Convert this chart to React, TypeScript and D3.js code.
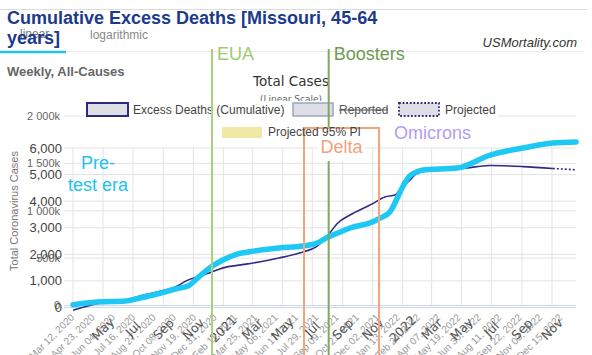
import React from 'react';
import * as d3 from 'd3';

// ---------- DATA ----------
const excessDates = [
  '2020-03-08', '2020-05-03', '2020-06-23', '2020-07-24', '2020-08-28', '2020-10-05', '2020-10-31',
  '2020-11-25', '2020-12-18', '2021-01-12', '2021-03-04', '2021-05-07', '2021-06-26', '2021-07-23',
  '2021-08-17', '2021-09-06', '2021-10-01', '2021-11-15', '2021-12-12', '2022-01-02', '2022-01-12',
  '2022-02-02', '2022-02-16', '2022-03-15', '2022-05-22', '2022-07-17', '2022-09-23', '2022-11-24'
];
const excessValues = [
  -100, 170, 280, 430, 580, 770, 1030,
  1180, 1330, 1490, 1640, 1860, 2090, 2280,
  2730, 3180, 3480, 3890, 4160, 4230, 4420,
  4800, 5040, 5150, 5230, 5340, 5300, 5230
];
const projectedDates = ['2022-11-24', '2023-01-11'];
const projectedValues = [5230, 5180];

const casesDates = [
  '2020-03-01', '2020-04-19', '2020-06-15', '2020-07-15', '2020-08-19', '2020-09-25', '2020-10-21',
  '2020-11-14', '2020-12-07', '2020-12-31', '2021-01-29', '2021-02-20', '2021-04-24', '2021-06-12',
  '2021-07-11', '2021-08-02', '2021-08-22', '2021-09-16', '2021-10-31', '2021-11-16', '2021-12-06',
  '2021-12-16', '2021-12-27', '2022-01-06', '2022-01-16', '2022-01-30', '2022-02-11', '2022-04-22',
  '2022-06-28', '2022-09-03', '2022-11-03', '2022-12-20'
];
const casesValues = [
  8, 37, 47, 79, 121, 174, 206,
  311, 406, 480, 543, 565, 607, 628,
  660, 723, 765, 818, 881, 923, 987,
  1080, 1200, 1300, 1370, 1410, 1430, 1451,
  1588, 1662, 1715, 1725
];

const excessTicks = [0, 1000, 2000, 3000, 4000, 5000, 6000];
const casesTicks = [0, 500, 1000, 1500, 2000];
const casesTickLabels = ['0', '500k', '1 000k', '1 500k', '2 000k'];

const weekLabelDates = [
  '2020-03-12', '2020-04-23', '2020-06-04', '2020-07-16', '2020-08-27', '2020-10-08', '2020-11-19',
  '2020-12-31', '2021-02-11', '2021-03-25', '2021-05-06', '2021-06-17', '2021-07-29', '2021-09-09',
  '2021-10-21', '2021-12-02', '2022-01-13', '2022-02-24', '2022-04-07', '2022-05-19', '2022-06-30',
  '2022-08-11', '2022-09-22', '2022-11-03', '2022-12-15'
];
const monthTickDates = [
  '2020-03-01', '2020-05-01', '2020-07-01', '2020-09-01', '2020-11-01', '2021-01-01', '2021-03-01',
  '2021-05-01', '2021-07-01', '2021-09-01', '2021-11-01', '2022-01-01', '2022-03-01', '2022-05-01',
  '2022-07-01', '2022-09-01', '2022-11-01'
];
const monthTickLabels = [
  '', 'May', 'Jul', 'Sep', 'Nov', '2021', 'Mar', 'May', 'Jul', 'Sep', 'Nov', '2022', 'Mar', 'May',
  'Jul', 'Sep', 'Nov'
];

const euaDate = '2020-12-20';
const boostersDate = '2021-08-18';
const deltaStart = '2021-06-28';
const deltaEnd = '2021-11-30';

// ---------- HELPERS ----------
const pd = (s: string) => {
  const [y, m, d] = s.split('-').map(Number);
  return new Date(Date.UTC(y, m - 1, d));
};
const fmtWeek = (s: string) => {
  const dt = pd(s);
  const mon = ['Jan', 'Feb', 'Mar', 'Apr', 'May', 'Jun', 'Jul', 'Aug', 'Sep', 'Oct', 'Nov', 'Dec'][dt.getUTCMonth()];
  const day = String(dt.getUTCDate()).padStart(2, '0');
  return `${mon} ${day}, ${dt.getUTCFullYear()}`;
};

const SANS = '"Liberation Sans", Arial, Helvetica, sans-serif';
const DEJA = '"DejaVu Sans", "Lucida Grande", sans-serif';

export default function App() {
  const W = 592, H = 355;
  const left = 64, right = 576;

  const xEx = d3.scaleUtc().domain([pd('2020-03-12'), pd('2022-12-15')]).range([75, 563]);
  const xCa = d3.scaleUtc().domain([pd('2020-03-01'), pd('2022-11-01')]).range([73, 552]);
  const yEx = d3.scaleLinear().domain([0, 6000]).range([307.5, 148]);
  const yCa = d3.scaleLinear().domain([0, 2000]).range([305.5, 116]);

  const exPts = excessDates.map((d, i) => [xEx(pd(d)), yEx(excessValues[i])] as [number, number]);
  const prPts = projectedDates.map((d, i) => [xEx(pd(d)), yEx(projectedValues[i])] as [number, number]);
  const caPts = casesDates.map((d, i) => [xCa(pd(d)), yCa(casesValues[i])] as [number, number]);

  const line = d3.line().curve(d3.curveMonotoneX);

  const gridC = '#e3e3e3';
  const euaX = xEx(pd(euaDate));
  const boostX = xEx(pd(boostersDate));
  const dX0 = xEx(pd(deltaStart));
  const dX1 = xEx(pd(deltaEnd));

  return (
    <svg width={W} height={H} style={{ position: 'absolute', left: 0, top: 0, background: '#fff' }}>
      <rect x={0} y={0} width={W} height={H} fill="#fff" />
      {/* top rules */}
      <line x1={0} x2={587} y1={9.5} y2={9.5} stroke="#dcdcdc" strokeWidth={1} />
      <line x1={66} x2={584} y1={51.5} y2={51.5} stroke="#ececec" strokeWidth={1} />
      <line x1={0} x2={66} y1={52} y2={52} stroke="#1fc3ee" strokeWidth={2.5} />

      {/* title */}
      <text x={20} y={38} fontFamily={SANS} fontSize={12} fill="#777">linear</text>
      <text x={7} y={24} fontFamily={SANS} fontSize={18} fontWeight="bold" fill="#1b3a8c">
        Cumulative Excess Deaths [Missouri, 45-64
      </text>
      <text x={7} y={44} fontFamily={SANS} fontSize={18} fontWeight="bold" fill="#1b3a8c">years]</text>
      <text x={90} y={39} fontFamily={SANS} fontSize={12} fill="#888">logarithmic</text>
      <text x={577} y={47} textAnchor="end" fontFamily={SANS} fontSize={13} fontStyle="italic" fill="#333">
        USMortality.com
      </text>
      <text x={7} y={76} fontFamily={SANS} fontSize={13} fontWeight="bold" fill="#666">Weekly, All-Causes</text>

      {/* Total cases title */}
      <text x={291} y={86} textAnchor="middle" fontFamily={DEJA} fontSize={13.5} fill="#333">Total Cases</text>
      <text x={291} y={102} textAnchor="middle" fontFamily={DEJA} fontSize={9} fill="#666">(Linear Scale)</text>

      {/* horizontal grid: cases */}
      {casesTicks.slice(1).map((t) => (
        <line key={'cg' + t} x1={left} x2={right} y1={yCa(t)} y2={yCa(t)} stroke={gridC} strokeWidth={1} />
      ))}
      {/* horizontal grid: excess */}
      {excessTicks.slice(1).map((t) => (
        <line key={'eg' + t} x1={left} x2={right} y1={yEx(t)} y2={yEx(t)} stroke={gridC} strokeWidth={1} />
      ))}
      {/* vertical grid */}
      {monthTickDates.map((d) => (
        <line key={'vg' + d} x1={xCa(pd(d))} x2={xCa(pd(d))} y1={148} y2={306} stroke={gridC} strokeWidth={1} />
      ))}
      {/* axis lines */}
      <line x1={left} x2={right} y1={yCa(0)} y2={yCa(0)} stroke="#ccd6eb" strokeWidth={1} />
      <line x1={left} x2={right} y1={yEx(0)} y2={yEx(0)} stroke="#ccd6eb" strokeWidth={1} />

      {/* legend background */}
      <rect x={85} y={101} width={413} height={18} fill="#fff" />

      {/* y labels */}
      {casesTicks.map((t, i) => (
        <text key={'cl' + t} x={60} y={yCa(t)} dy="0.35em" textAnchor="end" fontFamily={SANS} fontSize={11} fill="#666">
          {casesTickLabels[i]}
        </text>
      ))}
      {excessTicks.map((t) => (
        <text key={'el' + t} x={62} y={yEx(t)} dy="0.35em" textAnchor="end" fontFamily={SANS} fontSize={13} fill="#444">
          {d3.format(',')(t)}
        </text>
      ))}
      <text transform={`translate(18,211) rotate(-90)`} textAnchor="middle" fontFamily={SANS} fontSize={11} fill="#777">
        Total Coronavirus Cases
      </text>

      {/* x labels: weekly */}
      {weekLabelDates.map((d) => {
        const x = xEx(pd(d));
        return (
          <text key={'wl' + d} transform={`translate(${x},318) rotate(-45)`} textAnchor="end" fontFamily={SANS} fontSize={10} fill="#999">
            {fmtWeek(d)}
          </text>
        );
      })}
      {/* x labels: monthly */}
      {monthTickDates.map((d, i) => {
        const x = xCa(pd(d));
        return (
          <text key={'ml' + d} transform={`translate(${x},329) rotate(-45)`} textAnchor="middle" dy="0.35em" fontFamily={DEJA} fontSize={12.5} fill="#555">
            {monthTickLabels[i]}
          </text>
        );
      })}

      {/* series */}
      <path d={line(exPts) || ''} fill="none" stroke="#2e2a86" strokeWidth={1.6} />
      <path d={line(prPts) || ''} fill="none" stroke="#2e2a86" strokeWidth={1.6} strokeDasharray="2,2" />
      <path d={line(caPts) || ''} fill="none" stroke="#1ec8f4" strokeWidth={5.5} strokeLinecap="round" strokeLinejoin="round" />

      {/* legend */}
      <rect x={87} y={103} width={41} height={13} fill="#dedee4" stroke="#2c2a80" strokeWidth={2} />
      <text x={133} y={114} fontFamily={SANS} fontSize={12} fill="#444">Excess Deaths (Cumulative)</text>
      <rect x={293} y={103} width={40} height={13} fill="#dedee4" stroke="#9aa6c0" strokeWidth={1.5} />
      <text x={339} y={114} fontFamily={SANS} fontSize={12} fill="#555">Reported</text>
      <line x1={339} x2={388} y1={110} y2={110} stroke="#555" strokeWidth={1} />
      <rect x={399} y={103} width={40} height={13} fill="#dedee4" stroke="#2c2a80" strokeWidth={1.8} strokeDasharray="1.8,1.8" />
      <text x={445} y={114} fontFamily={SANS} fontSize={12} fill="#444">Projected</text>
      <rect x={222} y={127} width={40} height={11} fill="#f1e8a6" />

      {/* annotations */}
      <line x1={euaX} x2={euaX} y1={49} y2={H} stroke="#a8d080" strokeWidth={2} />
      <text x={euaX + 5} y={60} fontFamily={SANS} fontSize={18} fill="#9ccc6e">EUA</text>
      <line x1={boostX} x2={boostX} y1={49} y2={H} stroke="#7fa862" strokeWidth={2} />
      <text x={boostX + 5} y={60} fontFamily={SANS} fontSize={18} fill="#6f9a52">Boosters</text>
      <rect x={dX0} y={128} width={dX1 - dX0} height={H} fill="none" stroke="#f2a57c" strokeWidth={2} />
      <rect x={(dX0 + dX1) / 2 - 23} y={129} width={46} height={32} fill="#fff" />
      <text x={268} y={136} fontFamily={SANS} fontSize={12} fill="#444">Projected 95% PI</text>
      <text x={(dX0 + dX1) / 2} y={153} textAnchor="middle" fontFamily={SANS} fontSize={18} fill="#f4a07a">Delta</text>
      <text x={394} y={139} fontFamily={SANS} fontSize={18} fill="#b39cf2">Omicrons</text>
      <text x={98} y={169} textAnchor="middle" fontFamily={SANS} fontSize={18} fill="#22c2ee">Pre-</text>
      <text x={98} y={191} textAnchor="middle" fontFamily={SANS} fontSize={18} fill="#22c2ee">test era</text>
    </svg>
  );
}
